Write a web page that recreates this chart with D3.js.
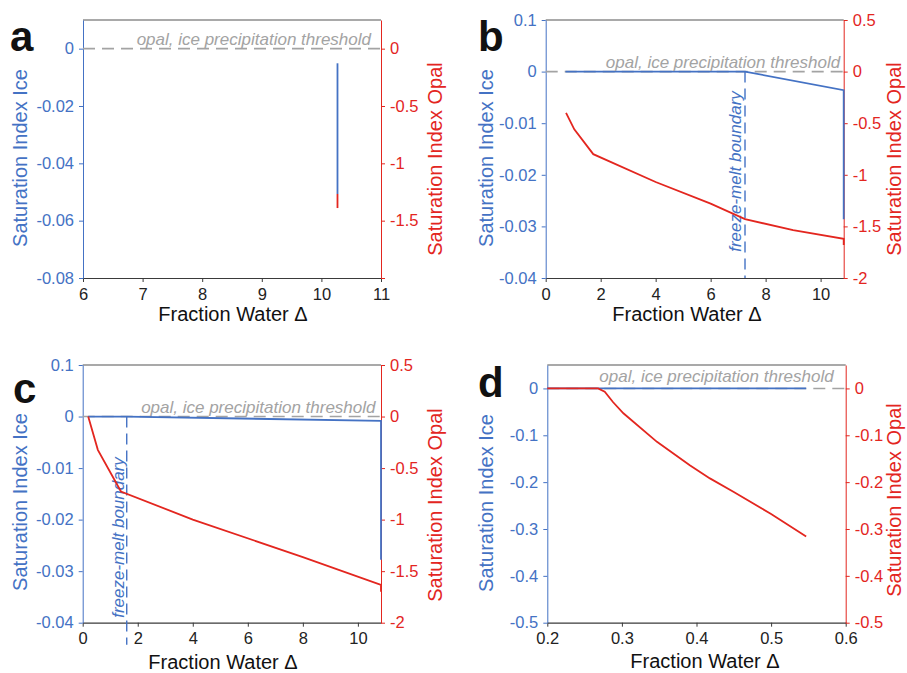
<!DOCTYPE html>
<html><head><meta charset="utf-8">
<script src="https://cdn.jsdelivr.net/npm/d3@7"></script>
<style>
body{margin:0;background:#fff;}
svg{display:block;font-family:"Liberation Sans",Arial,Helvetica,sans-serif;}
</style>
</head><body>
<svg id="chart" width="907" height="673"></svg>
<script>
// ---------------- DATA ----------------
// panel a
const aIceX = [10.27, 10.27];
const aIce = [-0.0051, -0.0507];
const aOpalX = [10.27, 10.27];
const aOpal = [-1.267, -1.39];
const aXTicks = [6, 7, 8, 9, 10, 11];
const aXTickLabels = ["6", "7", "8", "9", "10", "11"];
const aIceTicks = [0, -0.02, -0.04, -0.06, -0.08];
const aIceTickLabels = ["0", "-0.02", "-0.04", "-0.06", "-0.08"];
const aOpalTicks = [0, -0.5, -1, -1.5, -2];
const aOpalTickLabels = ["0", "-0.5", "-1", "-1.5", ""];

// panel b
const bIceX = [0.72, 7.25, 10.84, 10.84];
const bIce = [0, 0, -0.0036, -0.0286];
const bOpalX = [0.74, 1.04, 1.73, 4, 6, 7.25, 9, 10.84, 10.84];
const bOpal = [-0.40, -0.56, -0.80, -1.07, -1.28, -1.43, -1.535, -1.62, -1.68];
const bBoundary = 7.25;
const bXTicks = [0, 2, 4, 6, 8, 10];
const bXTickLabels = ["0", "2", "4", "6", "8", "10"];
const bIceTicks = [0.01, 0, -0.01, -0.02, -0.03, -0.04];
const bIceTickLabels = ["0.1", "0", "-0.01", "-0.02", "-0.03", "-0.04"];
const bOpalTicks = [0.5, 0, -0.5, -1, -1.5, -2];
const bOpalTickLabels = ["0.5", "0", "-0.5", "-1", "-1.5", "-2"];

// panel c
const cIceX = [0.2, 1.6, 10.84, 10.84];
const cIce = [0, 0, -0.00085, -0.0278];
const cOpalX = [0.2, 0.55, 1.39, 4, 8, 10.84, 10.84];
const cOpal = [0, -0.323, -0.727, -1.0, -1.364, -1.633, -1.70];
const cBoundary = 1.6;
const cXTicks = [0, 2, 4, 6, 8, 10];
const cXTickLabels = ["0", "2", "4", "6", "8", "10"];
const cIceTicks = [0.01, 0, -0.01, -0.02, -0.03, -0.04];
const cIceTickLabels = ["0.1", "0", "-0.01", "-0.02", "-0.03", "-0.04"];
const cOpalTicks = [0.5, 0, -0.5, -1, -1.5, -2];
const cOpalTickLabels = ["0.5", "0", "-0.5", "-1", "-1.5", "-2"];

// panel d
const dIceX = [0.2, 0.547];
const dIce = [0, 0];
const dOpalX = [0.2, 0.268, 0.277, 0.288, 0.302, 0.347, 0.391, 0.418, 0.45, 0.5, 0.547];
const dOpal = [0, 0, -0.007, -0.029, -0.053, -0.114, -0.164, -0.192, -0.221, -0.268, -0.316];
const dXTicks = [0.2, 0.3, 0.4, 0.5, 0.6];
const dXTickLabels = ["0.2", "0.3", "0.4", "0.5", "0.6"];
const dIceTicks = [0, -0.1, -0.2, -0.3, -0.4, -0.5];
const dIceTickLabels = ["0", "-0.1", "-0.2", "-0.3", "-0.4", "-0.5"];
const dOpalTicks = [0, -0.1, -0.2, -0.3, -0.4, -0.5];
const dOpalTickLabels = ["0", "-0.1", "-0.2", "-0.3", "-0.4", "-0.5"];

const thresholdText = "opal, ice precipitation threshold";
const boundaryText = "freeze-melt boundary";
const iceTitle = "Saturation Index Ice";
const opalTitle = "Saturation Index Opal";
const xTitle = "Fraction Water \u0394";

// ---------------- STYLE / LAYOUT ----------------
const BLUE = "#4472c4", RED = "#e3261f", GRAY = "#a3a3a3", DARK = "#3a3a3a";
const svg = d3.select("#chart");

function labelMap(ticks, labels) {
  const m = new Map(ticks.map((t, i) => [t, labels[i]]));
  return v => m.get(v);
}

function drawPanel(p) {
  const x = d3.scaleLinear().domain(p.xDomain).range([p.left, p.right]);
  const yI = d3.scaleLinear().domain(p.iceDomain).range([p.bottom, p.top]);
  const yO = d3.scaleLinear().domain(p.opalDomain).range([p.bottom, p.top]);
  const g = svg.append("g");

  // top border
  g.append("line").attr("x1", p.left).attr("x2", p.right).attr("y1", p.top).attr("y2", p.top)
    .attr("stroke", "#555").attr("stroke-width", 1.2);

  // bottom axis
  const xa = g.append("g").attr("transform", `translate(0,${p.bottom})`)
    .call(d3.axisBottom(x).tickValues(p.xTicks).tickFormat(labelMap(p.xTicks, p.xTickLabels))
      .tickSize(4).tickSizeOuter(0).tickPadding(6));
  xa.select(".domain").attr("stroke", DARK).attr("stroke-width", 1.2);
  xa.selectAll(".tick line").attr("stroke", DARK);
  xa.selectAll("text").attr("fill", "#222").style("font-size", "16.5px");

  // left axis (ice)
  const la = g.append("g").attr("transform", `translate(${p.left},0)`)
    .call(d3.axisLeft(yI).tickValues(p.iceTicks).tickFormat(labelMap(p.iceTicks, p.iceTickLabels))
      .tickSize(4).tickSizeOuter(0).tickPadding(5));
  la.select(".domain").attr("stroke", BLUE).attr("stroke-width", 1);
  la.selectAll(".tick line").attr("stroke", BLUE);
  la.selectAll("text").attr("fill", BLUE).style("font-size", "16.5px");

  // right axis (opal)
  const ra = g.append("g").attr("transform", `translate(${p.right},0)`)
    .call(d3.axisRight(yO).tickValues(p.opalTicks).tickFormat(labelMap(p.opalTicks, p.opalTickLabels))
      .tickSize(4).tickSizeOuter(0).tickPadding(5));
  ra.select(".domain").attr("stroke", RED).attr("stroke-width", 1);
  ra.selectAll(".tick line").attr("stroke", RED);
  ra.selectAll("text").attr("fill", RED).style("font-size", "16.5px");

  // threshold dashed line
  g.append("line").attr("x1", p.left).attr("x2", p.right).attr("y1", yI(0)).attr("y2", yI(0))
    .attr("stroke", GRAY).attr("stroke-width", 1.6).attr("stroke-dasharray", "12,7");

  // freeze-melt boundary
  if (p.boundary !== undefined) {
    g.append("line").attr("x1", x(p.boundary)).attr("x2", x(p.boundary))
      .attr("y1", yI(0)).attr("y2", p.bottom + p.boundaryExtra)
      .attr("stroke", BLUE).attr("stroke-width", 1.4).attr("stroke-dasharray", "11,6");
    g.append("text").attr("transform", `translate(${x(p.boundary) - p.bTextDx},${p.bTextY}) rotate(-90)`)
      .attr("text-anchor", "middle").attr("fill", BLUE).style("font-style", "italic")
      .style("font-size", "17px").text(boundaryText);
  }

  // ice and opal lines
  const lineI = d3.line().x(d => x(d[0])).y(d => yI(d[1]));
  const lineO = d3.line().x(d => x(d[0])).y(d => yO(d[1]));
  g.append("path").datum(p.iceX.map((v, i) => [v, p.ice[i]])).attr("d", lineI)
    .attr("fill", "none").attr("stroke", BLUE).attr("stroke-width", 1.8);
  g.append("path").datum(p.opalX.map((v, i) => [v, p.opal[i]])).attr("d", lineO)
    .attr("fill", "none").attr("stroke", RED).attr("stroke-width", 1.8);

  // threshold text
  g.append("text").attr("x", p.right - p.tTextDx).attr("y", yI(0) - p.tTextDy)
    .attr("text-anchor", "end").attr("fill", GRAY).style("font-style", "italic")
    .style("font-size", "17px").text(thresholdText);

  // axis titles
  g.append("text").attr("transform", `translate(${p.iceTitleX},${p.iceTitleY}) rotate(-90)`)
    .attr("text-anchor", "middle").attr("fill", BLUE).style("font-size", "20px").text(iceTitle);
  g.append("text").attr("transform", `translate(${p.opalTitleX},${p.opalTitleY}) rotate(-90)`)
    .attr("text-anchor", "middle").attr("fill", RED).style("font-size", "20px").text(opalTitle);
  g.append("text").attr("x", p.xTitleX).attr("y", p.xTitleY)
    .attr("text-anchor", "middle").attr("fill", "#111").style("font-size", "20px").text(xTitle);

  // panel letter
  g.append("text").attr("x", p.letterX).attr("y", p.letterY).attr("fill", "#111")
    .style("font-size", "42px").style("font-weight", "bold").text(p.letter);
}

drawPanel({
  letter: "a", letterX: 10, letterY: 51,
  left: 83, right: 381, top: 20, bottom: 278,
  xDomain: [6, 11], iceDomain: [-0.08, 0.01], opalDomain: [-2, 0.25],
  xTicks: aXTicks, xTickLabels: aXTickLabels,
  iceTicks: aIceTicks, iceTickLabels: aIceTickLabels,
  opalTicks: aOpalTicks, opalTickLabels: aOpalTickLabels,
  iceX: aIceX, ice: aIce, opalX: aOpalX, opal: aOpal,
  tTextDx: 10, tTextDy: 4,
  iceTitleX: 27, iceTitleY: 158, opalTitleX: 442, opalTitleY: 159,
  xTitleX: 233, xTitleY: 321
});
drawPanel({
  letter: "b", letterX: 478, letterY: 51,
  left: 545.7, right: 843.7, top: 20, bottom: 278,
  xDomain: [0, 10.84], iceDomain: [-0.04, 0.01], opalDomain: [-2, 0.5],
  xTicks: bXTicks, xTickLabels: bXTickLabels,
  iceTicks: bIceTicks, iceTickLabels: bIceTickLabels,
  opalTicks: bOpalTicks, opalTickLabels: bOpalTickLabels,
  iceX: bIceX, ice: bIce, opalX: bOpalX, opal: bOpal,
  boundary: bBoundary, boundaryExtra: 0, bTextDx: 4.5, bTextY: 171.5,
  tTextDx: 3.5, tTextDy: 4,
  iceTitleX: 493, iceTitleY: 158, opalTitleX: 901, opalTitleY: 159,
  xTitleX: 687, xTitleY: 321
});
drawPanel({
  letter: "c", letterX: 13, letterY: 403,
  left: 82.7, right: 381, top: 365, bottom: 622.7,
  xDomain: [0, 10.84], iceDomain: [-0.04, 0.01], opalDomain: [-2, 0.5],
  xTicks: cXTicks, xTickLabels: cXTickLabels,
  iceTicks: cIceTicks, iceTickLabels: cIceTickLabels,
  opalTicks: cOpalTicks, opalTickLabels: cOpalTickLabels,
  iceX: cIceX, ice: cIce, opalX: cOpalX, opal: cOpal,
  boundary: cBoundary, boundaryExtra: 22, bTextDx: 2.5, bTextY: 537.5,
  tTextDx: 5.5, tTextDy: 4,
  iceTitleX: 27, iceTitleY: 502, opalTitleX: 442, opalTitleY: 505,
  xTitleX: 223, xTitleY: 669
});
drawPanel({
  letter: "d", letterX: 478, letterY: 397,
  left: 547.3, right: 845.7, top: 365, bottom: 622.7,
  xDomain: [0.2, 0.6], iceDomain: [-0.5, 0.05], opalDomain: [-0.5, 0.05],
  xTicks: dXTicks, xTickLabels: dXTickLabels,
  iceTicks: dIceTicks, iceTickLabels: dIceTickLabels,
  opalTicks: dOpalTicks, opalTickLabels: dOpalTickLabels,
  iceX: dIceX, ice: dIce, opalX: dOpalX, opal: dOpal,
  tTextDx: 12, tTextDy: 6,
  iceTitleX: 493, iceTitleY: 503, opalTitleX: 901, opalTitleY: 500,
  xTitleX: 705, xTitleY: 668
});
</script>
</body></html>
